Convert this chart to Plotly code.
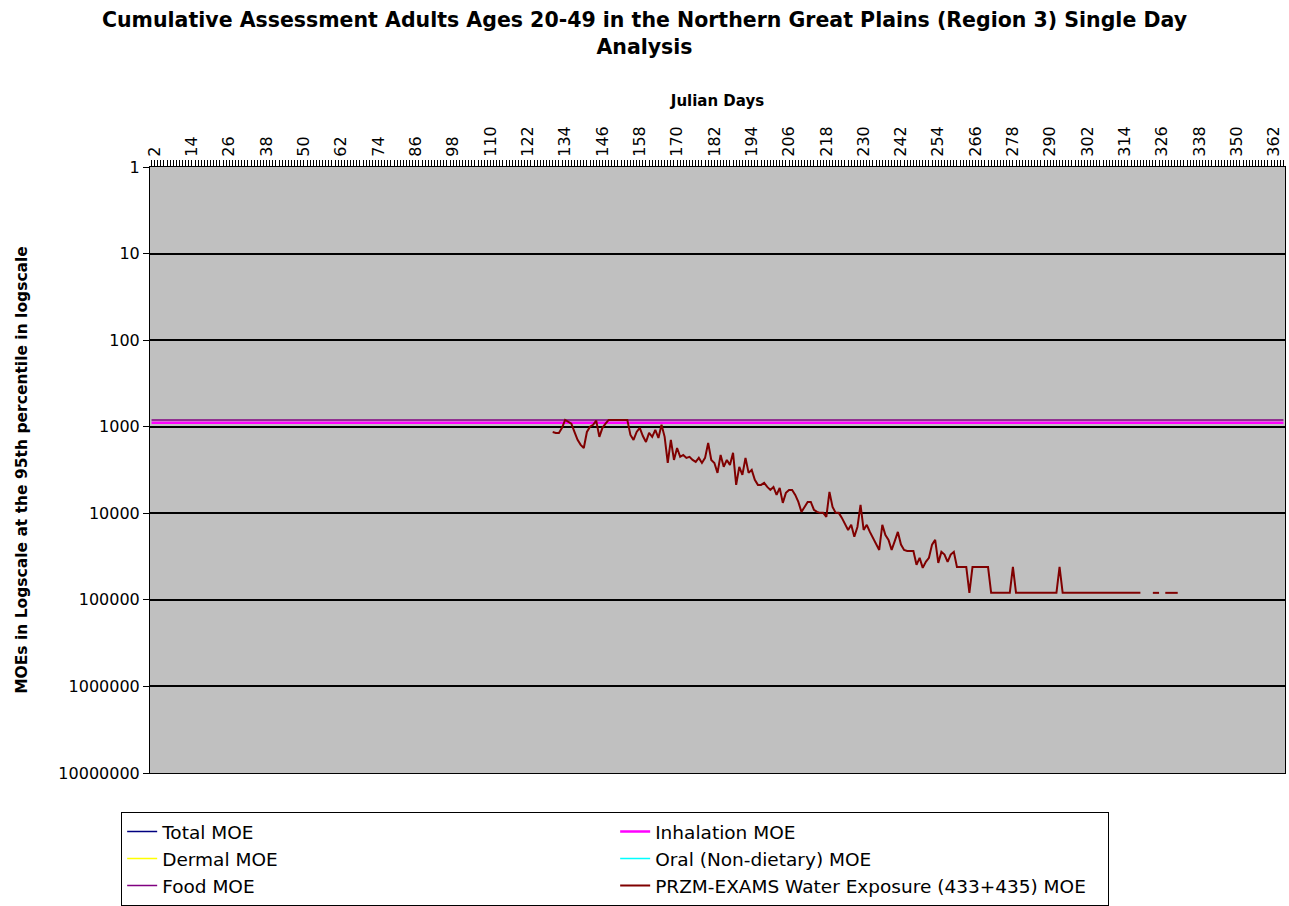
import plotly.graph_objects as go

# Julian days shown on the top axis
days = list(range(1, 366))
tick_days = list(range(2, 366, 12))

# PRZM-EXAMS water exposure MOE, days 130..331 (None = no value that day)
water_days = list(range(130, 332))
water_moe = (
    [1150, 1180, 1180, 1030, 834, 880, 920, 1150, 1420, 1620, 1760, 1150, 1000, 950, 850,
     1310, 1030, 920]
    + [834] * 7
    + [1245, 1420, 1150, 1030, 1280, 1500, 1180, 1310, 1090, 1350, 950, 1310, 2620, 1420,
       2420, 1760, 2230, 2120, 2290, 2230, 2420, 2550, 2290, 2620, 2290, 1540, 2420, 2620,
       3415, 2120, 2910, 2420, 2760, 2000, 4700, 2910, 3600, 2290, 3415, 3150, 4115, 4700,
       4700, 4460, 4960, 5370, 4960, 6130, 5090, 7580, 5810, 5370, 5370, 6130, 7390, 9630,
       8440, 7390, 7390, 9100, 9630, 9890, 9890, 11000, 5660, 8440, 9890, 9890, 11300,
       13600, 15600, 13600, 18700, 14400, 8000, 15600, 13600, 16400, 19200, 23000, 26500,
       13600, 17800, 20300, 26500, 21000, 16400, 23000, 26500, 27200, 27200, 27200, 39400,
       32700, 42700, 36400, 32700, 23000, 20300, 37400, 27900, 30000, 36400, 30000, 27900]
    + [41600] * 4 + [83000] + [41600] * 6 + [83000] * 7 + [41600] + [83000] * 14
    + [41600] + [83000] * 26
    + [None] * 3 + [83000] * 3 + [None] + [83000] * 5
)

# flat lines across the whole year
inhalation_moe = [900] * len(days)
food_moe = [834] * len(days)

# series listed in the legend but with no visible line
no_data = [None]

y_ticks = [1, 10, 100, 1000, 10000, 100000, 1000000, 10000000]

FONT = "DejaVu Sans, Arial, sans-serif"

fig = go.Figure()
fig.add_trace(go.Scatter(x=no_data, y=no_data, mode="lines", name="Total MOE",
                         line=dict(color="#000080", width=1.5)))
fig.add_trace(go.Scatter(x=days, y=inhalation_moe, mode="lines", name="Inhalation MOE",
                         line=dict(color="#FF00FF", width=2.5)))
fig.add_trace(go.Scatter(x=no_data, y=no_data, mode="lines", name="Dermal MOE",
                         line=dict(color="#FFFF00", width=1.5)))
fig.add_trace(go.Scatter(x=no_data, y=no_data, mode="lines", name="Oral (Non-dietary) MOE",
                         line=dict(color="#00FFFF", width=1.5)))
fig.add_trace(go.Scatter(x=days, y=food_moe, mode="lines", name="Food MOE",
                         line=dict(color="#800080", width=1.5)))
fig.add_trace(go.Scatter(x=water_days, y=water_moe, mode="lines",
                         name="PRZM-EXAMS Water Exposure (433+435) MOE",
                         line=dict(color="#800000", width=2), connectgaps=False))

fig.update_layout(
    width=1289, height=906,
    margin=dict(l=150, r=4, t=167, b=133),
    paper_bgcolor="white",
    plot_bgcolor="#C0C0C0",
    font=dict(family=FONT, color="black"),
    title=dict(
        text="Cumulative Assessment Adults Ages 20-49 in the Northern Great Plains (Region 3) Single Day<br>Analysis",
        x=0.5, xanchor="center", yref="container", y=0.97, yanchor="top",
        font=dict(family=FONT, size=20.5, weight="bold"),
    ),
    showlegend=True,
    legend=dict(
        orientation="h",
        xref="container", yref="container",
        x=0.094, xanchor="left", y=0.1038, yanchor="top",
        entrywidth=448, entrywidthmode="pixels",
        bordercolor="black", borderwidth=1,
        font=dict(family=FONT, size=18.5),
        bgcolor="white",
    ),
)

fig.update_xaxes(
    side="top",
    range=[0.5, 365.5],
    tickvals=tick_days,
    ticktext=[str(d) for d in tick_days],
    tickangle=-90,
    tickfont=dict(family=FONT, size=16),
    ticks="outside", ticklen=6, tickcolor="black",
    minor=dict(dtick=1, tick0=0, ticks="outside", ticklen=6, tickcolor="black", showgrid=False),
    showgrid=False, zeroline=False,
    showline=True, linecolor="black", linewidth=1, mirror=True,
    automargin=False,
    title=dict(text="Julian Days", font=dict(family=FONT, size=15, weight="bold"), standoff=16),
)

fig.update_yaxes(
    type="log",
    range=[7, 0],
    tickvals=y_ticks,
    ticktext=[str(v) for v in y_ticks],
    tickfont=dict(family=FONT, size=16),
    ticks="outside", ticklen=6, tickcolor="black",
    showgrid=True, gridcolor="black", gridwidth=1.5,
    zeroline=False,
    showline=True, linecolor="black", linewidth=1, mirror=True,
    automargin=False,
    title=dict(text="MOEs in Logscale at the 95th percentile in logscale",
               font=dict(family=FONT, size=15.5, weight="bold"), standoff=26),
)

# drop the default page margin so the figure sits at the window's top-left corner
fig.write_html("out.html", config={"displayModeBar": False},
               post_script="document.body.style.margin='0px';")
